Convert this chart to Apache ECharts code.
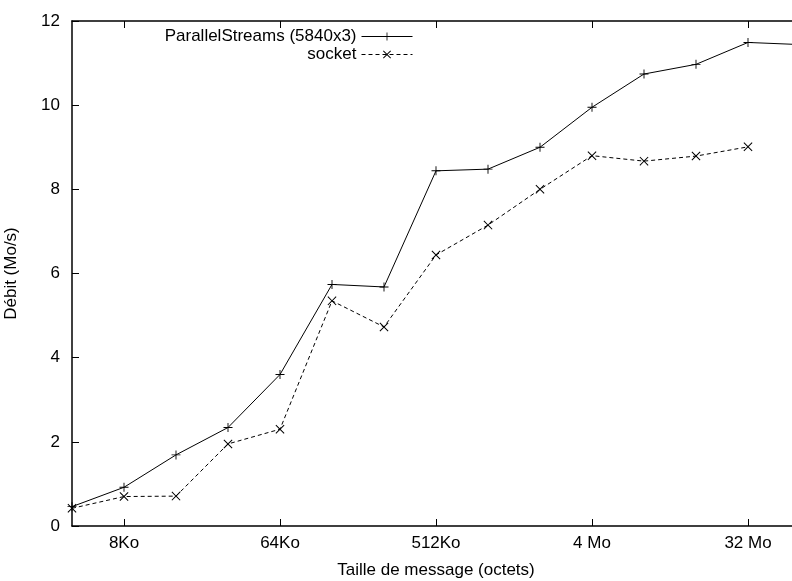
<!DOCTYPE html>
<html lang="fr">

<head>
    <meta charset="UTF-8">
    <script src="https://cdn.jsdelivr.net/npm/echarts@6/dist/echarts.min.js"></script>
    <title>Débit</title>
</head>

<body style="margin:0">
    <div id="main" style="width: 792px;height: 581px;"></div>

    <script>
        // message sizes in Ko (4Ko .. 64Mo)
        var sizes = [4, 8, 16, 32, 64, 128, 256, 512, 1024, 2048, 4096, 8192, 16384, 32768, 65536];
        var parallelStreams = [0.46, 0.92, 1.69, 2.34, 3.60, 5.74, 5.68, 8.44, 8.48, 9.00, 9.95, 10.74, 10.97, 11.49, 11.44];
        var socket = [0.42, 0.70, 0.71, 1.95, 2.30, 5.35, 4.73, 6.44, 7.15, 8.00, 8.80, 8.67, 8.79, 9.01];
        var tickValues = [8, 64, 512, 4096, 32768];
        var tickLabels = ['8Ko', '64Ko', '512Ko', '4 Mo', '32 Mo'];

        var font = 'Liberation Sans';
        var plusPath = 'path://M4.5,0h1v4.5h4.5v1h-4.5v4.5h-1v-4.5h-4.5v-1h4.5z';
        var crossPath = 'path://M0,0.8L0.8,0L5,4.2L9.2,0L10,0.8L5.8,5L10,9.2L9.2,10L5,5.8L0.8,10L0,9.2L4.2,5Z';

        function pairs(vals) {
            return vals.map(function (v, i) { return [sizes[i], v]; });
        }

        function tickName(v) {
            for (var i = 0; i < tickValues.length; i++) {
                if (Math.abs(v - tickValues[i]) < 1e-6 * tickValues[i]) return tickLabels[i];
            }
            return '';
        }

        var axisLine = { lineStyle: { color: '#000', width: 1.5 } };
        var legendText = { fontFamily: font, fontSize: 17, color: '#000' };

        var myChart = echarts.init(document.getElementById('main'));
        var option = {
            animation: false,
            textStyle: { fontFamily: font },
            grid: { left: 72, right: -8, top: 21, bottom: 55, outerBoundsMode: 'none' },
            legend: [
                {
                    data: ['ParallelStreams (5840x3)'],
                    right: 379, top: 28, padding: 0,
                    align: 'right', itemWidth: 51, itemHeight: 10,
                    lineStyle: { width: 1 },
                    textStyle: legendText
                },
                {
                    data: ['socket'],
                    right: 379, top: 46, padding: 0,
                    align: 'right', itemWidth: 51, itemHeight: 10,
                    lineStyle: { width: 1, type: [4, 3] },
                    textStyle: legendText
                }
            ],
            xAxis: [
                {
                    type: 'log', logBase: 2, min: 4, max: 65536,
                    name: 'Taille de message (octets)',
                    nameLocation: 'middle', nameGap: 36,
                    nameTextStyle: { fontFamily: font, fontSize: 17, color: '#000' },
                    axisLine: axisLine,
                    axisTick: { inside: true, length: 7, customValues: tickValues, lineStyle: { color: '#000' } },
                    axisLabel: {
                        customValues: tickValues, margin: 9,
                        fontFamily: font, fontSize: 17, color: '#000',
                        formatter: tickName
                    },
                    splitLine: { show: false }
                },
                {
                    type: 'log', logBase: 2, min: 4, max: 65536, position: 'top',
                    axisLine: axisLine,
                    axisTick: { inside: true, length: 7, customValues: tickValues, lineStyle: { color: '#000' } },
                    axisLabel: { show: false },
                    splitLine: { show: false }
                }
            ],
            yAxis: {
                type: 'value', min: 0, max: 12, interval: 2,
                name: 'Débit (Mo/s)',
                nameLocation: 'middle', nameGap: 52,
                nameTextStyle: { fontFamily: font, fontSize: 17, color: '#000' },
                axisLine: { show: true, lineStyle: { color: '#000', width: 1.5 } },
                axisTick: { show: true, inside: true, length: 7, lineStyle: { color: '#000' } },
                axisLabel: { margin: 12, fontFamily: font, fontSize: 17, color: '#000' },
                splitLine: { show: false }
            },
            series: [
                {
                    name: 'ParallelStreams (5840x3)',
                    type: 'line',
                    data: pairs(parallelStreams),
                    symbol: plusPath, symbolSize: 9,
                    lineStyle: { color: '#000', width: 1 },
                    itemStyle: { color: '#000' }
                },
                {
                    name: 'socket',
                    type: 'line',
                    data: pairs(socket),
                    symbol: crossPath, symbolSize: 9,
                    lineStyle: { color: '#000', width: 1, type: [4, 3] },
                    itemStyle: { color: '#000' }
                }
            ]
        };
        myChart.setOption(option);
    </script>
</body>

</html>
